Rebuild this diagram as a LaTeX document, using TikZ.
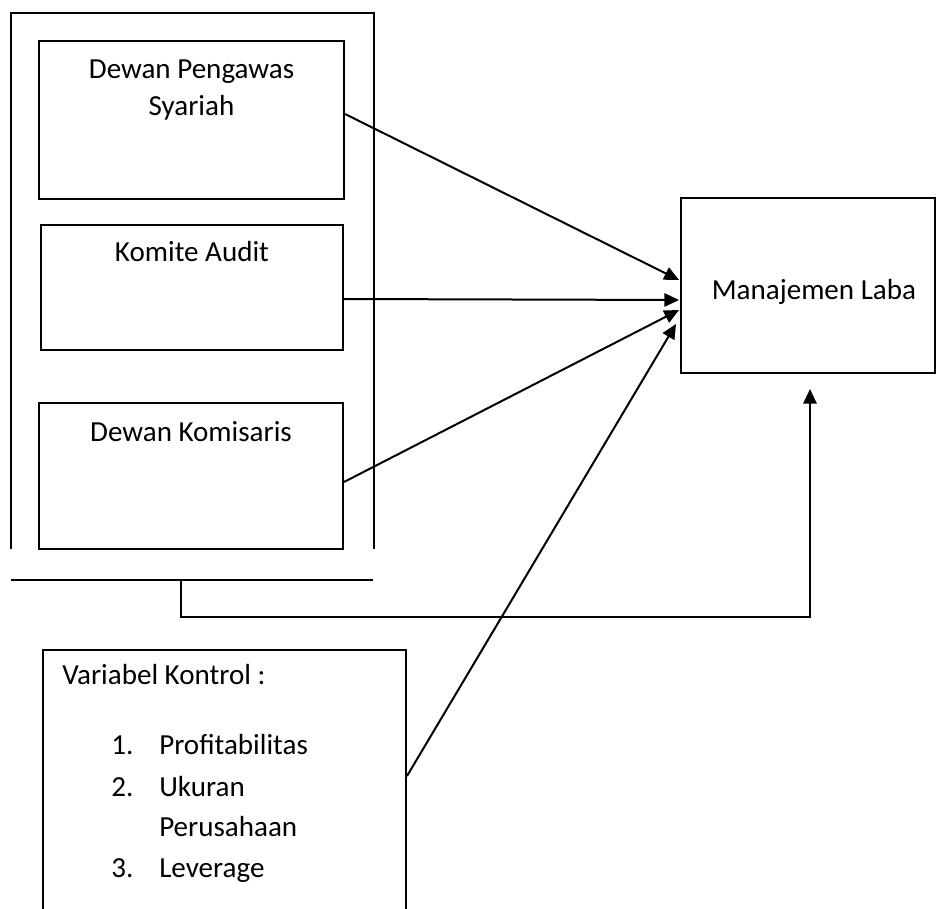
\documentclass[tikz,border=0pt]{standalone}
\usepackage{fontspec}
\setmainfont{Carlito}
\usetikzlibrary{arrows.meta,calc,positioning}
\newcommand{\boxfont}{\fontsize{21.8}{27.75}\selectfont}
\tikzset{
 every node/.append style={font=\boxfont,text=black},
 box/.style={draw=black,fill=white,line width=1.5pt,inner sep=0pt},
 caption/.style={inner sep=0pt,anchor=base,align=center},
 item/.style={inner sep=0pt,anchor=base west},
 frame/.style={draw=black,line width=1.5pt},
 flow/.style={-{Triangle[length=11pt,width=10pt]},draw=black,line width=1.5pt},
}

\begin{document}
\begin{tikzpicture}[x=0.75pt,y=-0.75pt]

\clip (0,0) rectangle (936,909);

% outer frame round the three governance boxes
\draw[frame] (11,549) -- (11,13) -- (374,13) -- (374,549);
\draw[frame] (11,580) -- (373,580);
\coordinate (join) at (181,580);

\node[box,minimum width=228.75pt,minimum height=118.5pt] (dps) at (191.5,120) {};
\node[caption] (dpsT) at ($(dps.north)+(0,76)$) {Dewan Pengawas\\Syariah};
\node[box,minimum width=226.5pt,minimum height=93.75pt] (ka) at (192,287.5) {};
\node[caption] (kaT) at ($(ka.north)+(0,38)$) {Komite Audit};
\node[box,minimum width=228pt,minimum height=109.5pt] (dk) at (191,476) {};
\node[caption] (dkT) at ($(dk.north)+(0,39)$) {Dewan Komisaris};

\node[box,minimum width=190.5pt,minimum height=131.25pt] (ml) at (808,285.5) {};
\node[caption] (mlT) at ($(ml.center)+(6,14.5)$) {Manajemen Laba};

\node[box,minimum width=272.25pt,minimum height=198.75pt] (ctrl) at (224.5,782.5) {};
\node[item] (ctrlT) at ($(ctrl.north west)+(20,35)$) {Variabel Kontrol :};
\foreach \n/\t/\y in {1/Profitabilitas/105,2/Ukuran/147,3/Leverage/228} {
  \node[item] (num\n) at ($(ctrl.north west)+(69,\y)$) {\n.};
  \node[item] (var\n) at ($(ctrl.north west)+(117,\y)$) {\t};
}
\node[item] (var2b) at ($(ctrl.north west)+(117,187)$) {Perusahaan};

\draw[flow] ($(dps.east)+(0,-6)$) -- ($(ml.west)+(-1,-5.5)$);
\draw[flow] ($(ka.east)+(0,11.5)$) -- ($(ml.west)+(-1,14.5)$);
\draw[flow] ($(dk.east)+(0,6)$) -- ($(ml.west)+(-1,24.5)$);
\draw[flow] ($(ctrl.east)+(0,-6.5)$) -- ($(ml.west)+(-4,38.5)$);
\draw[flow] (join) -- (181,617) -| ($(ml.south)+(2,15)$);

\end{tikzpicture}
\end{document}
